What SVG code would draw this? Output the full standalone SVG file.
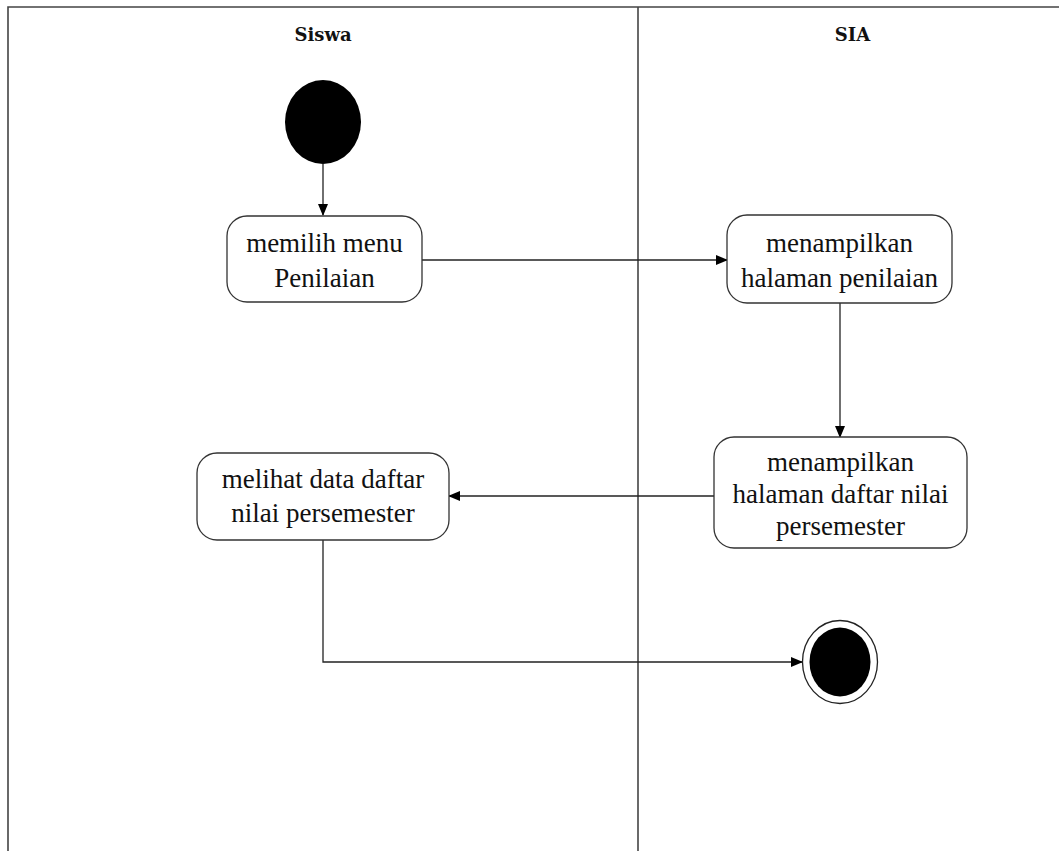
<svg xmlns="http://www.w3.org/2000/svg" width="1059" height="851" viewBox="0 0 1059 851">
<style>
.lane{stroke:#444;stroke-width:1.6;fill:none}
.act{fill:#fff;stroke:#333;stroke-width:1.3}
.t{font-family:"Liberation Serif","Times New Roman",serif;font-size:27px;fill:#111;text-anchor:middle}
.h{font-family:"DejaVu Serif",serif;font-size:18px;font-weight:bold;fill:#111;text-anchor:middle}
.c{stroke:#222;stroke-width:1.3;fill:none}
</style>
<defs>
<marker id="arr" markerWidth="12" markerHeight="10" refX="11" refY="5" orient="auto" markerUnits="userSpaceOnUse">
<path d="M0,0 L12,5 L0,10 Z" fill="#000"/>
</marker>
</defs>
<rect width="1059" height="851" fill="#fff"/>
<g id="lanes">
<path class="lane" d="M8,851 V7 H1059"/>
<path class="lane" d="M638,7 V851"/>
<text class="h" x="323" y="41">Siswa</text>
<text class="h" x="852.5" y="41">SIA</text>
</g>
<g id="connectors">
<path class="c" d="M323,164 V215" marker-end="url(#arr)"/>
<path class="c" d="M422,260 H727" marker-end="url(#arr)"/>
<path class="c" d="M840,303 V437" marker-end="url(#arr)"/>
<path class="c" d="M714,496 H449" marker-end="url(#arr)"/>
<path class="c" d="M323,540 V662 H802" marker-end="url(#arr)"/>
</g>
<g id="start">
<ellipse cx="323" cy="122" rx="38" ry="42" fill="#000"/>
</g>
<g id="n1">
<rect class="act" x="227" y="216" width="195" height="86" rx="20"/>
<text class="t" x="324.5" y="252">memilih menu</text>
<text class="t" x="324.5" y="287">Penilaian</text>
</g>
<g id="n2">
<rect class="act" x="727" y="215" width="225" height="88" rx="20"/>
<text class="t" x="839.5" y="252">menampilkan</text>
<text class="t" x="839.5" y="287">halaman penilaian</text>
</g>
<g id="n3">
<rect class="act" x="714" y="437" width="253" height="111" rx="20"/>
<text class="t" x="840.5" y="471">menampilkan</text>
<text class="t" x="840.5" y="503">halaman daftar nilai</text>
<text class="t" x="840.5" y="535">persemester</text>
</g>
<g id="n4">
<rect class="act" x="197" y="453" width="252" height="87" rx="20"/>
<text class="t" x="323" y="488">melihat data daftar</text>
<text class="t" x="323" y="522">nilai persemester</text>
</g>
<g id="end">
<ellipse cx="840" cy="662" rx="37.5" ry="41.5" fill="#fff" stroke="#222" stroke-width="1.3"/>
<ellipse cx="840" cy="662" rx="30.5" ry="34.5" fill="#000"/>
</g>
</svg>
